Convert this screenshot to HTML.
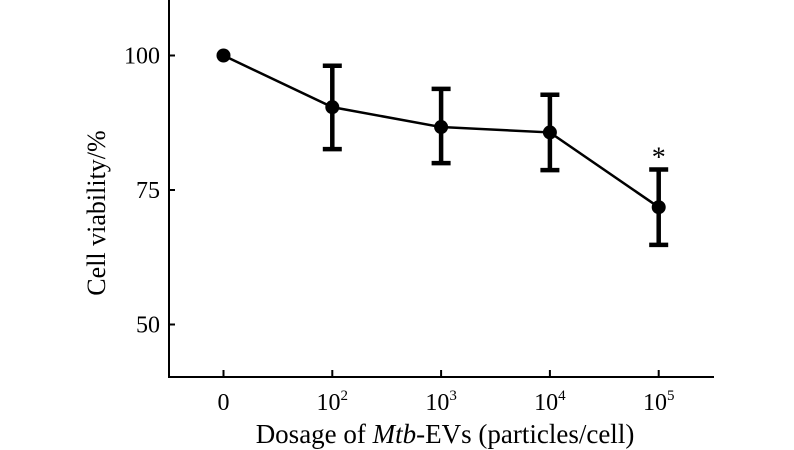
<!DOCTYPE html>
<html><head><meta charset="utf-8"><style>
html,body{margin:0;padding:0;background:#fff;}
svg{display:block;font-family:"Liberation Serif","DejaVu Serif",serif;}
</style></head><body>
<svg id="chart" width="794" height="450">
<g id="axes"></g>
<g id="marks"></g>
<text x="0" y="0" transform="translate(105,213) rotate(-90)" text-anchor="middle" font-size="26">Cell viability/%</text>
<text x="445" y="443" text-anchor="middle" font-size="27">Dosage of <tspan font-style="italic">Mtb</tspan>-EVs (particles/cell)</text>
</svg>
<script>
const categories = ["0","10^2","10^3","10^4","10^5"];
const means = [100, 90.4, 86.7, 85.7, 71.8];
const upper = [null, 98.1, 93.8, 92.7, 78.8];
const lower = [null, 82.6, 80.0, 78.7, 64.8];
const significant = [false,false,false,false,true];
const yTicks = [50, 75, 100];

const NS="http://www.w3.org/2000/svg";
const x0=169, xEnd=714, yAxisBottom=377;
function xScale(i){return 223.5+i*108.8;}
function yScale(v){return 190-(v-75)*134.5/25;}
function mk(tag,attrs,parent){const e=document.createElementNS(NS,tag);for(const k in attrs)e.setAttribute(k,attrs[k]);parent.appendChild(e);return e;}
const axes=document.getElementById('axes'), marks=document.getElementById('marks');

let a=mk('line',{x1:x0,y1:0,x2:x0,y2:yAxisBottom,stroke:'#000','stroke-width':2},axes);


a=mk('line',{x1:x0-1,y1:yAxisBottom,x2:xEnd,y2:yAxisBottom,stroke:'#000','stroke-width':2},axes);



yTicks.forEach(v=>{
  const y=yScale(v);
  let t=mk('line',{x1:x0,y1:y,x2:x0+6,y2:y,stroke:'#000','stroke-width':2},axes);
  
  
  let l=mk('text',{x:x0-9,y:y+8,'text-anchor':'end','font-size':24},axes);
  l.textContent=v;
  
  
});

categories.forEach((c,i)=>{
  const x=xScale(i);
  let t=mk('line',{x1:x,y1:yAxisBottom,x2:x,y2:yAxisBottom-7,stroke:'#000','stroke-width':2},axes);
  
  
  let l=mk('text',{x:x,y:410,'text-anchor':'middle','font-size':24},axes);
  if(c.indexOf('^')>=0){const p=c.split('^');l.textContent=p[0];const s=mk('tspan',{'font-size':15,dy:-10},l);s.textContent=p[1];}
  else l.textContent=c;
  
  
});

const pts=means.map((v,i)=>xScale(i)+','+yScale(v)).join(' ');
let pl=mk('polyline',{points:pts,fill:'none',stroke:'#000','stroke-width':2.5},marks);



means.forEach((v,i)=>{
  const x=xScale(i);
  if(upper[i]!=null){
    const g=mk('g',{},marks);
    
    
    const yt=yScale(upper[i]), yb=yScale(lower[i]);
    mk('line',{x1:x,y1:yt,x2:x,y2:yb,stroke:'#000','stroke-width':4.5},g);
    mk('line',{x1:x-9.5,y1:yt,x2:x+9.5,y2:yt,stroke:'#000','stroke-width':4.5},g);
    mk('line',{x1:x-9.5,y1:yb,x2:x+9.5,y2:yb,stroke:'#000','stroke-width':4.5},g);
  }
  const c=mk('circle',{cx:x,cy:yScale(v),r:7,fill:'#000'},marks);
  
  
  if(significant[i]){
    const s=mk('text',{x:x,y:yScale(upper[i])-3,'text-anchor':'middle','font-size':28},marks);
    s.textContent='*';
    
    
  }
});
</script>
</body></html>
